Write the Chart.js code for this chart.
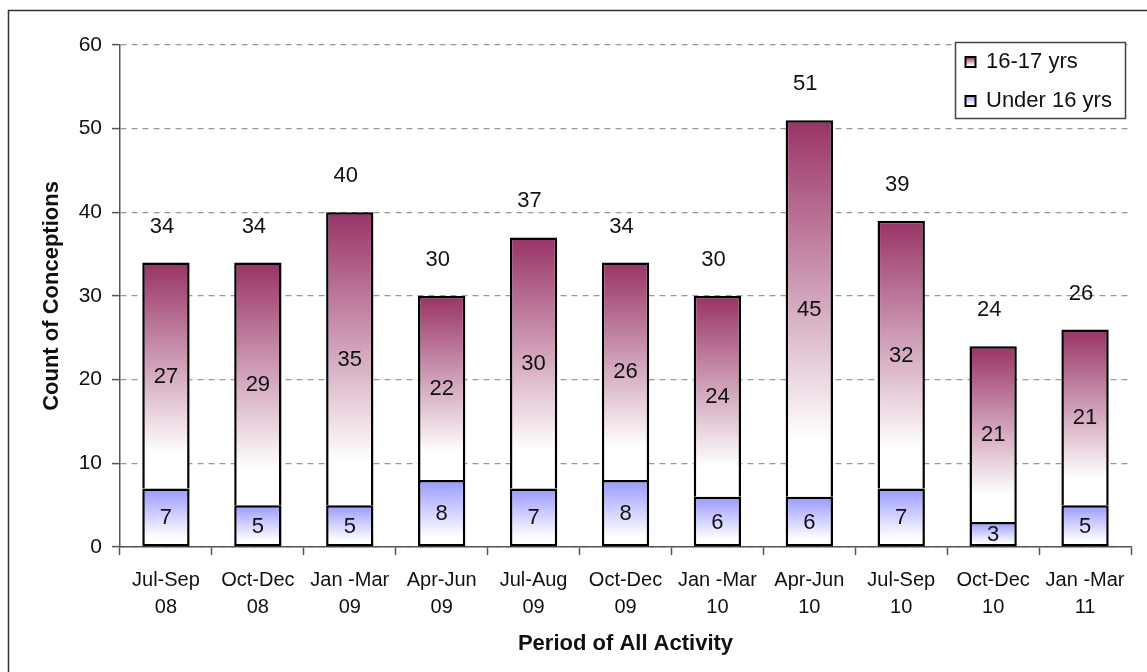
<!DOCTYPE html>
<html>
<head>
<meta charset="utf-8">
<script src="https://cdn.jsdelivr.net/npm/chart.js@4.4.1/dist/chart.umd.min.js"></script>
<style>
  html, body { margin: 0; padding: 0; background: #fff; }
  #wrap { width: 1147px; height: 672px; position: relative; }
</style>
</head>
<body>
<div id="wrap"><canvas id="c"></canvas></div>
<script>
const categories = [
  ["Jul-Sep", "08"], ["Oct-Dec", "08"], ["Jan -Mar", "09"], ["Apr-Jun", "09"],
  ["Jul-Aug", "09"], ["Oct-Dec", "09"], ["Jan -Mar", "10"], ["Apr-Jun", "10"],
  ["Jul-Sep", "10"], ["Oct-Dec", "10"], ["Jan -Mar", "11"]
];
const under16 = [7, 5, 5, 8, 7, 8, 6, 6, 7, 3, 5];
const age1617 = [27, 29, 35, 22, 30, 26, 24, 45, 32, 21, 21];
const totals = [34, 34, 40, 30, 37, 34, 30, 51, 39, 24, 26];
const yTicks = [0, 10, 20, 30, 40, 50, 60];

const FONT = "'Liberation Sans', Arial, sans-serif";
const TOP_MAROON = '#993366';
const TOP_BLUE = '#9999ff';
const TEXT = '#111';

function makeGrad(ctx, y0, y1, c) {
  const g = ctx.createLinearGradient(0, y0, 0, y1);
  g.addColorStop(0, c);
  g.addColorStop(0.85, '#ffffff');
  g.addColorStop(1, '#ffffff');
  return g;
}

function barBg(color, lowerArr, ownArr) {
  return function (context) {
    const chart = context.chart;
    if (!chart.chartArea || context.type !== 'data') return color;
    const ys = chart.scales.y;
    const i = context.dataIndex;
    const base = lowerArr ? lowerArr[i] : 0;
    const top = ys.getPixelForValue(base + ownArr[i]);
    const bot = ys.getPixelForValue(base);
    return makeGrad(chart.ctx, top, bot, color);
  };
}

const framePlugin = {
  id: 'frame',
  beforeDraw(chart) {
    const c = chart.ctx;
    c.save();
    c.strokeStyle = '#333';
    c.lineWidth = 1.5;
    c.beginPath();
    c.moveTo(8.5, 672);
    c.lineTo(8.5, 10.5);
    c.lineTo(1147, 10.5);
    c.stroke();
    c.restore();
  }
};

const labelPlugin = {
  id: 'segLabels',
  afterDatasetsDraw(chart) {
    const c = chart.ctx;
    c.save();
    c.font = '22px ' + FONT;
    c.fillStyle = TEXT;
    c.textAlign = 'center';
    c.textBaseline = 'middle';
    chart.data.datasets.forEach((ds, di) => {
      const meta = chart.getDatasetMeta(di);
      meta.data.forEach((el, i) => {
        const mid = (el.y + el.base) / 2;
        c.fillText(String(ds.data[i]), el.x, mid + 1);
      });
    });
    const topMeta = chart.getDatasetMeta(1);
    topMeta.data.forEach((el, i) => {
      c.fillText(String(totals[i]), el.x - 4, el.y - 36);
    });
    c.restore();
  }
};

const legendPlugin = {
  id: 'boxLegend',
  afterDraw(chart) {
    const c = chart.ctx;
    c.save();
    const bx = 955.5, by = 42.5, bw = 170, bh = 76;
    c.fillStyle = '#fff';
    c.fillRect(bx, by, bw, bh);
    c.strokeStyle = '#444';
    c.lineWidth = 1.5;
    c.strokeRect(bx, by, bw, bh);
    const items = [
      { text: chart.data.datasets[1].label, color: TOP_MAROON, y: 62 },
      { text: chart.data.datasets[0].label, color: TOP_BLUE, y: 101 }
    ];
    c.font = '22px ' + FONT;
    c.textBaseline = 'middle';
    c.textAlign = 'left';
    items.forEach(it => {
      const sx = 965.5, sy = it.y - 5, s = 10;
      c.fillStyle = makeGrad(c, sy, sy + s, it.color);
      c.fillRect(sx, sy, s, s);
      c.strokeStyle = '#000';
      c.lineWidth = 2;
      c.strokeRect(sx, sy, s, s);
      c.fillStyle = TEXT;
      c.fillText(it.text, 986, it.y);
    });
    c.restore();
  }
};

new Chart(document.getElementById('c'), {
  type: 'bar',
  data: {
    labels: categories,
    datasets: [
      {
        label: 'Under 16 yrs',
        data: under16,
        backgroundColor: barBg(TOP_BLUE, null, under16),
        borderColor: '#000',
        borderWidth: 2.5,
        borderSkipped: false,
        barPercentage: 0.515,
        categoryPercentage: 1.0
      },
      {
        label: '16-17 yrs',
        data: age1617,
        backgroundColor: barBg(TOP_MAROON, under16, age1617),
        borderColor: '#000',
        borderWidth: 2.5,
        borderSkipped: 'start',
        barPercentage: 0.515,
        categoryPercentage: 1.0
      }
    ]
  },
  options: {
    responsive: true,
    maintainAspectRatio: false,
    animation: false,
    layout: { padding: { top: 45, right: 16, bottom: 0, left: 0 } },
    plugins: {
      legend: { display: false },
      tooltip: { enabled: false }
    },
    scales: {
      x: {
        stacked: true,
        offset: true,
        grid: {
          display: true,
          drawOnChartArea: false,
          offset: true,
          drawTicks: true,
          tickLength: 8,
          tickColor: '#555',
          tickWidth: 1.5
        },
        border: { display: true, color: '#555', width: 1.5 },
        ticks: {
          color: TEXT,
          font: { family: FONT, size: 20, lineHeight: 1.35 },
          padding: 12,
          maxRotation: 0,
          autoSkip: false
        },
        title: {
          display: true,
          text: 'Period of All Activity',
          color: TEXT,
          font: { family: FONT, size: 22, weight: 'bold', lineHeight: 1.2 },
          padding: { top: 0, bottom: 15 }
        },
        afterFit(scale) { scale.height = 125; }
      },
      y: {
        stacked: true,
        min: 0,
        max: 60,
        afterBuildTicks(scale) { scale.ticks = yTicks.map(v => ({ value: v })); },
        grid: {
          display: true,
          color: '#999',
          lineWidth: 1.2,
          drawTicks: true,
          tickLength: 8,
          tickColor: '#555',
          tickWidth: 1.5,
          tickBorderDash: []
        },
        border: { display: true, color: '#555', width: 1.5, dash: [6, 5] },
        ticks: {
          color: TEXT,
          font: { family: FONT, size: 21 },
          padding: 10
        },
        title: {
          display: true,
          text: 'Count of Conceptions',
          color: TEXT,
          font: { family: FONT, size: 22, weight: 'bold', lineHeight: 1.2 },
          padding: { top: 39, bottom: 0 }
        },
        afterFit(scale) { scale.width = 120; }
      }
    }
  },
  plugins: [framePlugin, labelPlugin, legendPlugin]
});
</script>
</body>
</html>
